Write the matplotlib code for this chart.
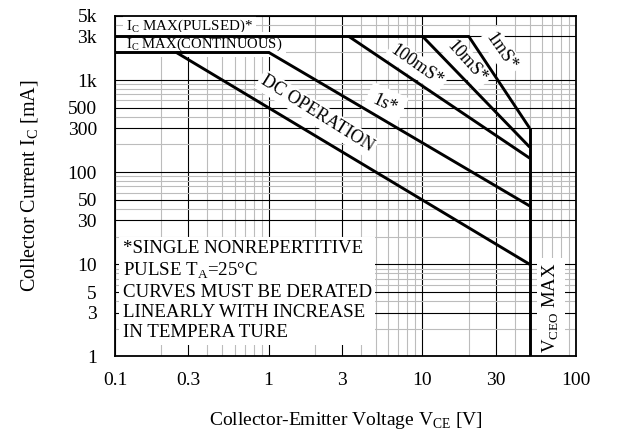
import numpy as np
import matplotlib
matplotlib.use("Agg")
import matplotlib.pyplot as plt
from matplotlib.ticker import FixedLocator, NullFormatter

plt.rcParams['font.family'] = ['Liberation Serif', 'DejaVu Serif']
plt.rcParams['mathtext.fontset'] = 'custom'
plt.rcParams['mathtext.rm'] = 'Liberation Serif'

# safe operating area boundaries (V_CE [V], I_C [mA])
pulsed_v = [0.1, 20]
pulsed_i = [3000, 3000]
cont_v = [0.1, 1]
cont_i = [2000, 2000]
dc_v = [0.25, 50]
dc_i = [2000, 10]
s1_v = [1, 50]
s1_i = [2000, 43]
ms100_v = [3.3, 50]
ms100_i = [3000, 142]
ms10_v = [10, 50]
ms10_i = [3000, 187]
ms1_v = [20, 50]
ms1_i = [3000, 300]
vceo_v = [50, 50]
vceo_i = [1, 300]

x_major = [0.1, 0.3, 1, 3, 10, 30, 100]
x_labels = ['0.1', '0.3', '1', '3', '10', '30', '100']
y_major = [1, 3, 5, 10, 30, 50, 100, 300, 500, 1000, 3000, 5000]
y_labels = ['1', '3', '5', '10', '30', '50', '100', '300', '500', '1k', '3k', '5k']

fig = plt.figure(figsize=(6.18, 4.47), dpi=100)
ax = fig.add_axes([0.186, 0.2025, 0.746, 0.7625])
ax.set_xscale('log')
ax.set_yscale('log')
ax.set_xlim(0.1, 100)
ax.set_ylim(1, 5000)

# grid: black at 1/3 (x) and 1/3/5 (y) multiples, grey for the rest
x_minor = [m * 10.0 ** d for d in range(-1, 2) for m in range(2, 10) if m != 3]
y_minor = [m * 10.0 ** d for d in range(0, 4) for m in (2, 4, 6, 7, 8, 9)]
ax.xaxis.set_major_locator(FixedLocator(x_major))
ax.xaxis.set_minor_locator(FixedLocator(x_minor))
ax.yaxis.set_major_locator(FixedLocator(y_major))
ax.yaxis.set_minor_locator(FixedLocator(y_minor))
ax.set_xticklabels(x_labels)
ax.set_yticklabels(y_labels)
ax.xaxis.set_minor_formatter(NullFormatter())
ax.yaxis.set_minor_formatter(NullFormatter())
ax.set_axisbelow(True)
ax.grid(which='minor', color='#bcbcbc', lw=0.8)
ax.grid(which='major', color='black', lw=0.8)
ax.tick_params(which='both', length=0, labelsize=14)
ax.tick_params(axis='x', pad=11)
ax.tick_params(axis='y', pad=13)
for sp in ax.spines.values():
    sp.set_linewidth(1.3)

lw = 2.1
for v, i in [(pulsed_v, pulsed_i), (cont_v, cont_i), (dc_v, dc_i), (s1_v, s1_i),
             (ms100_v, ms100_i), (ms10_v, ms10_i), (ms1_v, ms1_i), (vceo_v, vceo_i)]:
    ax.plot(v, i, color='black', lw=lw, zorder=3, solid_capstyle='butt')

box = dict(facecolor='white', edgecolor='none', pad=2)
ax.text(0.118, 3850, r'I$_{\mathrm{C}}$ MAX(PULSED)*', fontsize=10.8, va='center', ha='left',
        bbox=dict(facecolor='white', edgecolor='none', pad=2.5), zorder=2.5)
ax.text(0.118, 2440, r'I$_{\mathrm{C}}$ MAX(CONTINUOUS)', fontsize=10.5, va='center', ha='left',
        bbox=dict(facecolor='white', edgecolor='none', pad=2.5), zorder=2.5)
ax.text(2.06, 430, 'DC OPERATION', fontsize=13, rotation=-32, ha='center', va='center',
        bbox=box, zorder=2.5)
ax.text(5.7, 550, '1s*', fontsize=13, rotation=-25, ha='center', va='center',
        bbox=dict(facecolor='white', edgecolor='none', pad=5), zorder=2.5)
ax.text(9.2, 1420, '100mS*', fontsize=13, rotation=-35, ha='center', va='center',
        bbox=box, zorder=2.5)
ax.text(19.4, 1560, '10mS*', fontsize=13, rotation=-48, ha='center', va='center',
        bbox=box, zorder=2.5)
ax.text(32.8, 2040, '1mS*', fontsize=13, rotation=-55, ha='center', va='center',
        bbox=box, zorder=2.5)
ax.text(69, 3.4, r'V$_{\mathrm{CEO}}$ MAX', fontsize=13.5, rotation=90, ha='center', va='center',
        bbox=dict(facecolor='white', edgecolor='none', pad=3), zorder=2.5)

note = ('*SINGLE NONREPERTITIVE\n'
        'PULSE T$_{\\mathrm{A}}$=25°C\n'
        'CURVES MUST BE DERATED\n'
        'LINEARLY WITH INCREASE\n'
        'IN TEMPERA TURE')
ax.text(0.017, 0.342, note, transform=ax.transAxes, fontsize=13.6, ha='left', va='top',
        linespacing=1.24, bbox=dict(facecolor='white', edgecolor='none', pad=2.5), zorder=2.5)

ax.set_xlabel(r'Collector-Emitter Voltage V$_{\mathrm{CE}}$ [V]', fontsize=14, labelpad=15)
ax.set_ylabel(r'Collector Current I$_{\mathrm{C}}$ [mA]', fontsize=14.5, labelpad=20)

fig.savefig('out.png', dpi=100)
